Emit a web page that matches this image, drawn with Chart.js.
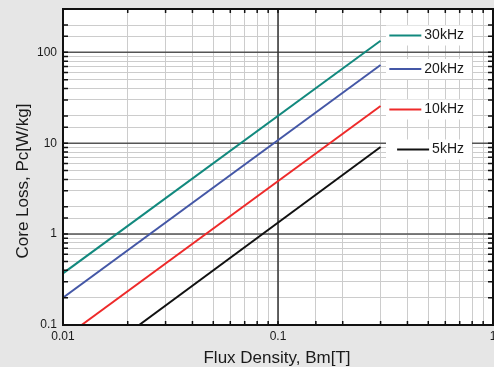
<!DOCTYPE html>
<html>
<head>
<meta charset="utf-8">
<script src="https://cdn.jsdelivr.net/npm/chart.js@4"></script>
<style>
  html, body { margin: 0; padding: 0; background: #e6e6e6; }
  #wrap { width: 494px; height: 367px; }
</style>
</head>
<body>
<div id="wrap"><canvas id="chart" width="494" height="367"></canvas></div>
<script>
// core loss lines
const seriesLabels = ['30kHz', '20kHz', '10kHz', '5kHz'];
const seriesColors = ['#12897e', '#4457a6', '#ee2a2a', '#111111'];
const bmStart = [0.01, 0.01, 0.0122, 0.0226];
const pcStart = [0.37, 0.2, 0.1, 0.1];
const bmEnd = [0.3, 0.3, 0.3, 0.3];
const pcEnd = [134, 72.5, 25.7, 9.1];
const xTickLabels = [0.01, 0.1, 1];
const yTickLabels = [0.1, 1, 10, 100];

const FONT = '"Liberation Sans", Arial, sans-serif';

const isDecade = v => v > 0 && Math.abs(Math.log10(v) - Math.round(Math.log10(v))) < 1e-6;

const datasets = seriesLabels.map((name, i) => ({
  label: name,
  data: [{ x: bmStart[i], y: pcStart[i] }, { x: bmEnd[i], y: pcEnd[i] }],
  borderColor: seriesColors[i],
  borderWidth: 2,
  pointRadius: 0,
  fill: false,
}));

const framePlugin = {
  id: 'frame',
  beforeDraw(chart) {
    const a = chart.chartArea;
    const ctx = chart.ctx;
    ctx.save();
    ctx.fillStyle = '#ffffff';
    ctx.fillRect(a.left, a.top, a.right - a.left, a.bottom - a.top);
    ctx.restore();
  },
  beforeDatasetsDraw(chart) {
    // decade lines on top of the minor grid
    const a = chart.chartArea;
    const ctx = chart.ctx;
    const xs = chart.scales.x, ys = chart.scales.y;
    ctx.save();
    ctx.lineWidth = 1.5;
    ctx.strokeStyle = '#555';
    ys.ticks.filter(t => isDecade(t.value)).forEach(t => {
      const p = ys.getPixelForValue(t.value);
      ctx.beginPath(); ctx.moveTo(a.left, p); ctx.lineTo(a.right, p); ctx.stroke();
    });
    ctx.strokeStyle = '#333';
    xs.ticks.filter(t => isDecade(t.value)).forEach(t => {
      const p = xs.getPixelForValue(t.value);
      ctx.beginPath(); ctx.moveTo(p, a.top); ctx.lineTo(p, a.bottom); ctx.stroke();
    });
    ctx.restore();
  },
  afterDraw(chart) {
    const a = chart.chartArea;
    const ctx = chart.ctx;
    const xs = chart.scales.x, ys = chart.scales.y;
    ctx.save();
    // border
    ctx.strokeStyle = '#111';
    ctx.lineWidth = 2;
    ctx.strokeRect(a.left, a.top, a.right - a.left, a.bottom - a.top);
    // inward ticks
    ctx.lineWidth = 1.5;
    ctx.beginPath();
    xs.ticks.forEach(t => {
      const p = xs.getPixelForValue(t.value);
      ctx.moveTo(p, a.top); ctx.lineTo(p, a.top + 4);
      ctx.moveTo(p, a.bottom); ctx.lineTo(p, a.bottom - 4);
    });
    ys.ticks.forEach(t => {
      const p = ys.getPixelForValue(t.value);
      ctx.moveTo(a.left, p); ctx.lineTo(a.left + 5, p);
      ctx.moveTo(a.right, p); ctx.lineTo(a.right - 5, p);
    });
    ctx.stroke();

    // legend boxes
    const legendY = [35.5, 69, 109.5, 149.5];
    ctx.font = '14px ' + FONT;
    ctx.textBaseline = 'middle';
    ctx.textAlign = 'right';
    seriesLabels.forEach((name, i) => {
      const y = legendY[i];
      const w = ctx.measureText(name).width;
      const tx = 464;
      ctx.fillStyle = '#ffffff';
      ctx.fillRect(386, y - 10, 86, 20);
      ctx.strokeStyle = seriesColors[i];
      ctx.lineWidth = 2;
      ctx.beginPath();
      ctx.moveTo(tx - w - 35, y);
      ctx.lineTo(tx - w - 3, y);
      ctx.stroke();
      ctx.fillStyle = '#1a1a1a';
      ctx.fillText(name, tx, y);
    });

    // axis titles
    ctx.font = '17px ' + FONT;
    ctx.fillStyle = '#1a1a1a';
    ctx.textAlign = 'center';
    ctx.textBaseline = 'alphabetic';
    ctx.fillText('Flux Density, Bm[T]', 277, 363);
    ctx.translate(27.5, 181);
    ctx.rotate(-Math.PI / 2);
    ctx.fillText('Core Loss, Pc[W/kg]', 0, 0);
    ctx.restore();
  }
};

new Chart(document.getElementById('chart'), {
  type: 'line',
  data: { datasets: datasets },
  options: {
    responsive: false,
    animation: false,
    layout: { padding: { top: 9, right: 1, left: 0, bottom: 0 } },
    plugins: {
      legend: { display: false },
      tooltip: { enabled: false },
    },
    scales: {
      x: {
        type: 'logarithmic',
        min: 0.01,
        max: 1,
        border: { display: false },
        grid: {
          drawTicks: false,
          color: '#cccccc',
          lineWidth: 1,
        },
        ticks: {
          autoSkip: false,
          maxRotation: 0,
          padding: 4,
          color: '#1a1a1a',
          font: { family: FONT, size: 12 },
          callback: v => xTickLabels.some(t => Math.abs(t - v) < 1e-9) ? String(v) : '',
        },
        afterFit: s => { s.height = 42; s.paddingLeft = 0; s.paddingRight = 0; },
      },
      y: {
        type: 'logarithmic',
        min: 0.1,
        max: 300,
        border: { display: false },
        grid: {
          drawTicks: false,
          color: '#cccccc',
          lineWidth: 1,
        },
        ticks: {
          autoSkip: false,
          padding: 6,
          color: '#1a1a1a',
          font: { family: FONT, size: 12 },
          callback: v => yTickLabels.some(t => Math.abs(t - v) < 1e-9) ? String(v) : '',
        },
        afterFit: s => { s.width = 63; s.paddingTop = 0; s.paddingBottom = 0; },
      },
    },
  },
  plugins: [framePlugin],
});
</script>
</body>
</html>
